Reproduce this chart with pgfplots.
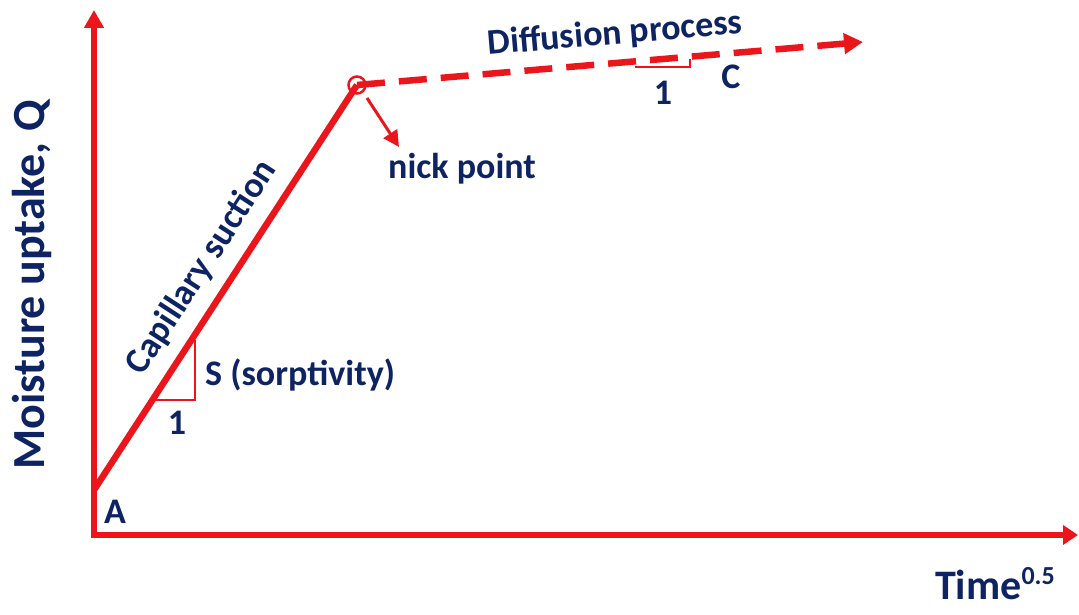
\documentclass[border=0pt]{standalone}
\usepackage{pgfplots}
\pgfplotsset{compat=1.18}
\usepackage{fontspec}
\setmainfont{Carlito}
\usetikzlibrary{arrows.meta}

\definecolor{linered}{RGB}{235,22,28}
\definecolor{labelnavy}{RGB}{14,36,98}
\newcommand{\labfont}{\fontsize{36}{40}\selectfont\bfseries}

\begin{document}
\begin{tikzpicture}
\begin{axis}[
  scale only axis, width=984pt, height=525pt,
  xmin=0, xmax=984, ymin=0, ymax=525, enlargelimits=false,
  axis lines=left, xtick=\empty, ytick=\empty,
  axis line style={linered, line width=5.5pt, line cap=rect},
  x axis line style={-{Triangle[length=15pt,width=19pt]}},
  y axis line style={-{Triangle[length=18pt,width=19pt]}},
  clip=false,
  xlabel={Time\raisebox{0.36em}{\fontsize{26}{30}\selectfont 0.5}},
  ylabel={Moisture uptake, Q},
  every axis x label/.style={at={(axis cs:961,-65)}, anchor=base east,
    inner sep=0pt, text=labelnavy, font=\fontsize{42}{46}\selectfont\bfseries},
  every axis y label/.style={at={(axis cs:-49,250)}, anchor=base, rotate=90,
    inner sep=0pt, text=labelnavy, font=\fontsize{46}{50}\selectfont\bfseries},
]
% capillary suction stage
\addplot[linered, line width=6.5pt] coordinates {(0,45) (263,450)};
% diffusion stage
\addplot[linered, line width=6.5pt, dash pattern=on 28pt off 14pt,
  -{Triangle[length=19pt,width=20pt]}] coordinates {(263,450) (769,493)};
% nick point
\addplot[linered, only marks, mark=o, mark size=8.5pt,
  mark options={line width=2.5pt, fill=none}] coordinates {(263,450)};

% slope triangles
\draw[linered, line width=1.5pt] (axis cs:58,135) -- (axis cs:101,135) -- (axis cs:101,195);
\draw[linered, line width=1.5pt] (axis cs:541,468) -- (axis cs:596,468) -- (axis cs:596,476);
\draw[linered, line width=3pt, -{Triangle[length=16pt,width=16pt]}]
  (axis cs:273,437) -- (axis cs:305,388);

\begin{scope}[every node/.style={inner sep=0pt, text=labelnavy, font=\labfont}]
\node[anchor=base, rotate=4.9] at (axis cs:522,491) {Diffusion process};
\node at (axis cs:569,442) {1};
\node at (axis cs:637,458) {C};
\node[anchor=west] at (axis cs:294,366) {nick point};
\node[anchor=south, rotate=57] at (axis cs:121,259) {Capillary suction};
\node[anchor=west] at (axis cs:111,160) {S (sorptivity)};
\node at (axis cs:83,112) {1};
\node at (axis cs:21,23) {A};
\end{scope}

\coordinate (bbsw) at (axis cs:-94,-80);
\coordinate (bbne) at (axis cs:985,535);
\end{axis}
\pgfresetboundingbox
\path (bbsw) rectangle (bbne);
\end{tikzpicture}
\end{document}
